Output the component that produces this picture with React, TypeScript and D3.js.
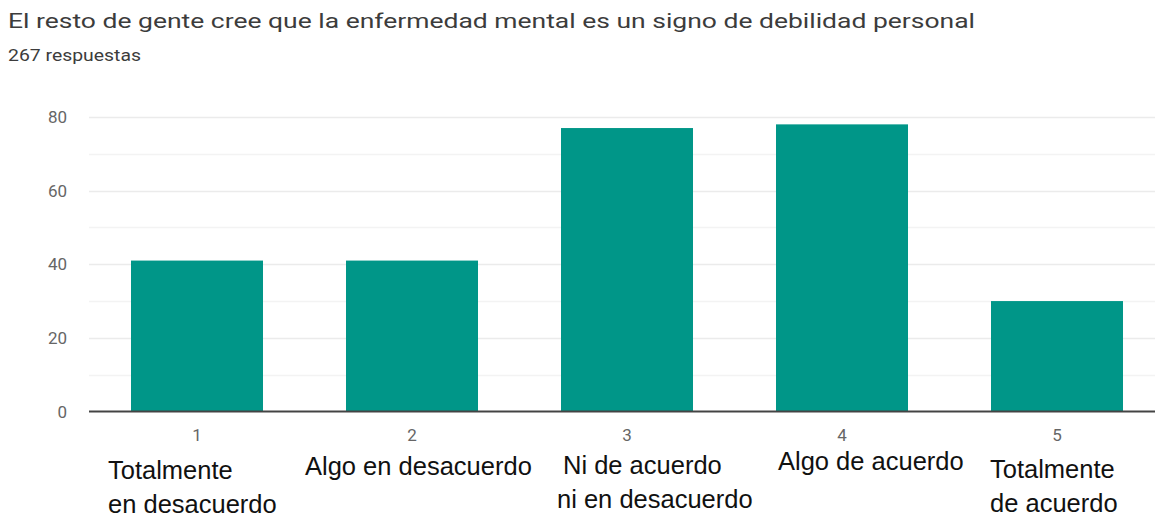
import React from "react";
import * as d3 from "d3";

const categories = ["1", "2", "3", "4", "5"];
const counts = [41, 41, 77, 78, 30];
const labelLines = [
  ["Totalmente", "en desacuerdo"],
  ["Algo en desacuerdo"],
  ["Ni de acuerdo", "ni en desacuerdo"],
  ["Algo de acuerdo"],
  ["Totalmente", "de acuerdo"],
];
const yTicks = [0, 20, 40, 60, 80];
const minorTicks = [10, 30, 50, 70];
const title = "El resto de gente cree que la enfermedad mental es un signo de debilidad personal";
const subtitle = "267 respuestas";

// layout of the pasted-in answer labels (offset from band centre, first baseline, per-line x shift)
const labelLayout = [
  { dx: -89, y: 479, lineDx: [0, 0] },
  { dx: -107, y: 475, lineDx: [0, 0] },
  { dx: -64, y: 474, lineDx: [0, -6] },
  { dx: -64, y: 470, lineDx: [0, 0] },
  { dx: -67, y: 478, lineDx: [0, 0] },
];

const W = 1155;
const H = 520;

export default function App() {
  const x = d3
    .scaleBand<string>()
    .domain(categories)
    .range([89.5, 1164.5])
    .paddingInner(0.386)
    .paddingOuter(0.193);
  const y = d3.scaleLinear().domain([0, 80]).range([411.5, 117]);
  const plotLeft = 89;

  return (
    <svg
      width={W}
      height={H}
      style={{ position: "absolute", left: 0, top: 0, background: "#fff" }}
    >
      <rect x={0} y={0} width={W} height={H} fill="#fff" />
      <text
        x={8}
        y={28}
        fontFamily="Roboto, Arial, sans-serif"
        fontSize={21}
        fill="#3c3c3c"
        textLength={967}
        lengthAdjust="spacingAndGlyphs"
      >
        {title}
      </text>
      <text
        x={8}
        y={61}
        fontFamily="Roboto, Arial, sans-serif"
        fontSize={17}
        fill="#3c3c3c"
        textLength={133}
        lengthAdjust="spacingAndGlyphs"
      >
        {subtitle}
      </text>

      {minorTicks.map((t) => (
        <line key={"m" + t} x1={plotLeft} x2={W} y1={Math.round(y(t)) + 0.5} y2={Math.round(y(t)) + 0.5} stroke="#f3f3f3" strokeWidth={1.5} />
      ))}
      {yTicks.filter((t) => t > 0).map((t) => (
        <line key={"g" + t} x1={plotLeft} x2={W} y1={Math.round(y(t)) + 0.5} y2={Math.round(y(t)) + 0.5} stroke="#ebebeb" strokeWidth={1.5} />
      ))}
      {yTicks.map((t) => (
        <text
          key={"t" + t}
          x={67}
          y={y(t) + 6}
          textAnchor="end"
          fontFamily="Roboto, Arial, sans-serif"
          fontSize={17}
          fill="#666"
        >
          {t}
        </text>
      ))}

      {categories.map((c, i) => (
        <rect
          key={c}
          x={x(c)!}
          y={y(counts[i])}
          width={x.bandwidth()}
          height={y(0) - y(counts[i])}
          fill="#009688"
        />
      ))}

      <line x1={plotLeft} x2={W} y1={411.5} y2={411.5} stroke="#444" strokeWidth={2} />

      {categories.map((c) => (
        <text
          key={"x" + c}
          x={x(c)! + x.bandwidth() / 2}
          y={441}
          textAnchor="middle"
          fontFamily="Roboto, Arial, sans-serif"
          fontSize={17}
          fill="#666"
        >
          {c}
        </text>
      ))}

      {categories.map((c, i) => {
        const cx = x(c)! + x.bandwidth() / 2;
        const L = labelLayout[i];
        return (
          <text
            key={"l" + c}
            fontFamily="'Liberation Sans', Arial, sans-serif"
            fontSize={25.5}
            fill="#111"
          >
            {labelLines[i].map((line, j) => (
              <tspan key={j} x={cx + L.dx + L.lineDx[j]} y={L.y + j * 34}>
                {line}
              </tspan>
            ))}
          </text>
        );
      })}
    </svg>
  );
}
